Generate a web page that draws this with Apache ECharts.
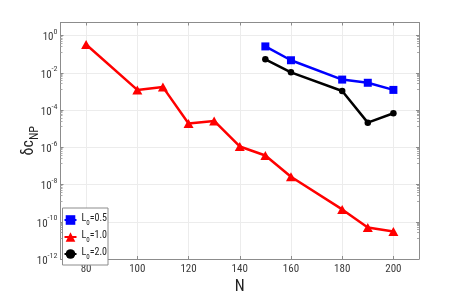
<!DOCTYPE html>
<html>
<head>
<meta charset="utf-8">
<script src="https://cdn.jsdelivr.net/npm/echarts@6/dist/echarts.min.js"></script>
<style>html,body{margin:0;padding:0;background:#fff;}#c{width:463px;height:300px;}</style>
</head>
<body>
<div id="c"></div>
<script>
// ---- data ----
var xTicks = [80, 100, 120, 140, 160, 180, 200];
var yTickExponents = [-12, -10, -8, -6, -4, -2, 0];
var seriesNames = ['L0=0.5', 'L0=1.0', 'L0=2.0'];
var legendSub = ['0', '0', '0'];
var legendTail = ['=0.5', '=1.0', '=2.0'];

var nBlue = [150, 160, 180, 190, 200];
var vBlue = [0.26, 0.047, 4.3e-3, 2.9e-3, 1.2e-3];

var nRed = [80, 100, 110, 120, 130, 140, 150, 160, 180, 190, 200];
var vRed = [0.33, 1.2e-3, 1.7e-3, 1.9e-5, 2.6e-5, 1.1e-6, 3.6e-7, 2.6e-8, 4.6e-10, 4.9e-11, 3.0e-11];

var nBlack = [150, 160, 180, 190, 200];
var vBlack = [0.053, 0.0105, 1.05e-3, 2.1e-5, 6.7e-5];

function pairs(xs, ys) { return xs.map(function (x, i) { return [x, ys[i]]; }); }

var axisGray = '#8c8c8c';
var gridGray = '#ececec';
var labelColor = '#3a3a3a';
var fontFam = '"Roboto Condensed", "Liberation Sans", Arial, sans-serif';
var nameFam = '"Roboto Condensed", "Liberation Sans", Arial, sans-serif';

function yLabel(v) {
  var e = Math.log10(v);
  var r = Math.round(e);
  if (Math.abs(e - r) > 0.01 || yTickExponents.indexOf(r) < 0) return '';
  return '{b|10}{s|' + r + '}';
}

var chart = echarts.init(document.getElementById('c'), null, { renderer: 'canvas' });
var option = {
  animation: false,
  backgroundColor: '#fff',
  grid: { left: 60.5, right: 44, top: 22.5, bottom: 35, containLabel: false },
  xAxis: [{
    type: 'value', min: 70, max: 210, position: 'bottom',
    axisLine: { show: true, lineStyle: { color: axisGray, width: 1 } },
    axisTick: { show: true, inside: true, length: 3, customValues: xTicks, lineStyle: { color: axisGray } },
    axisLabel: { customValues: xTicks, color: labelColor, fontSize: 11, fontFamily: fontFam, margin: 5 },
    splitLine: { show: true, lineStyle: { color: gridGray, width: 1 } },
    name: 'N', nameLocation: 'middle', nameGap: 20, nameMoveOverlap: false,
    nameTextStyle: { fontSize: 16, color: '#222', fontFamily: nameFam }
  }, {
    type: 'value', min: 70, max: 210, position: 'top',
    axisLine: { show: true, lineStyle: { color: axisGray, width: 1 } },
    axisTick: { show: true, inside: true, length: 3, customValues: xTicks, lineStyle: { color: axisGray } },
    axisLabel: { show: false }, splitLine: { show: false }
  }],
  yAxis: [{
    type: 'log', logBase: 10, min: 1e-12, max: 5, interval: 2,
    axisLine: { show: true, lineStyle: { color: axisGray, width: 1 } },
    axisTick: { show: true, inside: true, length: 3, lineStyle: { color: axisGray } },
    minorTick: { show: true, splitNumber: 8, length: 2, lineStyle: { color: '#aaa' } },
    axisLabel: {
      formatter: yLabel, margin: 3, color: labelColor, fontFamily: fontFam,
      rich: {
        b: { fontSize: 11, color: labelColor, fontFamily: fontFam, lineHeight: 15, verticalAlign: 'bottom' },
        s: { fontSize: 8, color: labelColor, fontFamily: fontFam, lineHeight: 15, verticalAlign: 'top' }
      }
    },
    splitLine: { show: true, lineStyle: { color: gridGray, width: 1 } },
    name: '{d|\u03b4c}{n|NP}', nameLocation: 'middle', nameGap: 20, nameMoveOverlap: false,
    nameTextStyle: {
      rich: {
        d: { fontSize: 16, color: '#222', fontFamily: nameFam, lineHeight: 20, verticalAlign: 'top' },
        n: { fontSize: 12, color: '#222', fontFamily: nameFam, lineHeight: 20, verticalAlign: 'bottom' }
      }
    }
  }, {
    type: 'log', logBase: 10, min: 1e-12, max: 5, interval: 2, position: 'right',
    axisLine: { show: true, lineStyle: { color: axisGray, width: 1 } },
    axisTick: { show: true, inside: true, length: 3, lineStyle: { color: axisGray } },
    minorTick: { show: true, splitNumber: 8, length: 2, lineStyle: { color: '#aaa' } },
    axisLabel: { show: false }, splitLine: { show: false }
  }],
  legend: {
    orient: 'vertical', left: 62.5, top: 208,
    backgroundColor: '#fff', borderColor: '#8c8c8c', borderWidth: 1, borderRadius: 0,
    padding: [5, 1, 4, 1], itemGap: 3, itemWidth: 12, itemHeight: 12,
    data: seriesNames,
    formatter: function (name) {
      var i = seriesNames.indexOf(name);
      return '{t|L}{u|' + legendSub[i] + '}{t|' + legendTail[i] + '}';
    },
    textStyle: {
      rich: {
        t: { fontSize: 10, color: '#222', fontFamily: fontFam, lineHeight: 14, verticalAlign: 'top' },
        u: { fontSize: 7, color: '#222', fontFamily: fontFam, lineHeight: 14, verticalAlign: 'bottom' }
      }
    }
  },
  series: [{
    name: seriesNames[0], type: 'line', data: pairs(nBlue, vBlue),
    symbol: 'rect', symbolSize: 8, showSymbol: true,
    lineStyle: { color: '#0000ff', width: 2.5 }, itemStyle: { color: '#0000ff' }, z: 3
  }, {
    name: seriesNames[1], type: 'line', data: pairs(nRed, vRed),
    symbol: 'triangle', symbolSize: [10, 9], showSymbol: true,
    lineStyle: { color: '#ff0000', width: 2.5 }, itemStyle: { color: '#ff0000' }, z: 3
  }, {
    name: seriesNames[2], type: 'line', data: pairs(nBlack, vBlack),
    symbol: 'circle', symbolSize: 6.5, showSymbol: true,
    lineStyle: { color: '#000000', width: 2.5 }, itemStyle: { color: '#000000' }, z: 3
  }]
};
chart.setOption(option);
</script>
</body>
</html>
